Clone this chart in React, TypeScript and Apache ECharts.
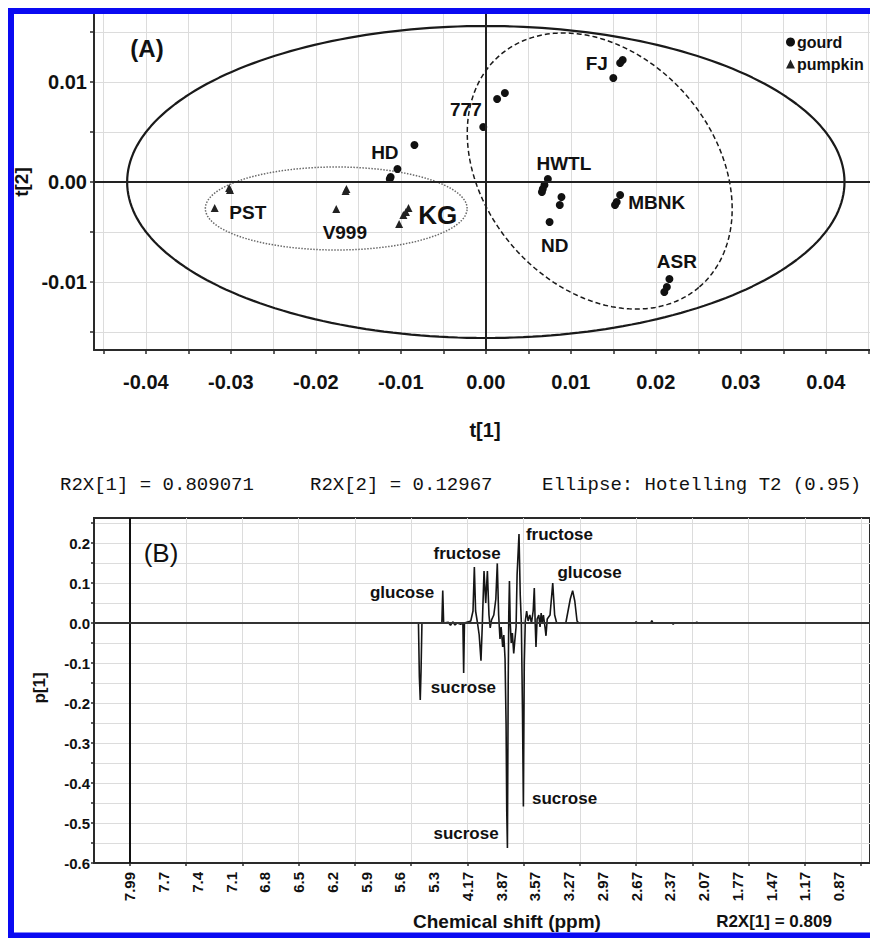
import React, { useEffect, useRef } from 'react';
import * as echarts from 'echarts';

// ---------- (A) PCA scores ----------
const gourdX = [0.0161, 0.0158, 0.0150, 0.00224, 0.00133, -0.0003, -0.0084, -0.0104, -0.0112, -0.0113, 0.0073, 0.0069, 0.0066, 0.0067, 0.0089, 0.0087, 0.0075, 0.0158, 0.0154, 0.0152, 0.0216, 0.0213, 0.0210];
const gourdY = [0.0122, 0.0119, 0.0104, 0.0089, 0.0083, 0.0055, 0.0037, 0.0013, 0.0005, 0.0003, 0.0003, -0.0003, -0.0010, -0.0007, -0.0015, -0.0023, -0.0040, -0.0013, -0.0020, -0.0023, -0.0097, -0.0105, -0.0110];
const pumpkinX = [-0.0302, -0.0301, -0.0319, -0.0164, -0.0165, -0.0176, -0.0091, -0.0094, -0.0097, -0.0102];
const pumpkinY = [-0.0006, -0.0008, -0.0026, -0.0007, -0.0009, -0.0027, -0.0026, -0.0030, -0.0033, -0.0042];

const sampleNames = ['FJ', '777', 'HD', 'HWTL', 'MBNK', 'ND', 'ASR', 'PST', 'V999', 'KG'];
const sampleLabelX = [0.01306, -0.00235, -0.01188, 0.00918, 0.0201, 0.00812, 0.02247, -0.0280, -0.01659, -0.00565];
const sampleLabelY = [0.0119, 0.0073, 0.0030, 0.0019, -0.0020, -0.0063, -0.0079, -0.0030, -0.0050, -0.0033];

// ellipse: centre x, centre y, axis-1 vector (x, y), axis-2 vector (x, y)
const t2Ellipse = [0, 0, 0.0422, 0, 0, 0.0156];
const gourdEllipse = [0.0134, 0.0011, 0.01173, -0.01159, 0.01026, 0.0075];
const pumpkinEllipse = [-0.0176, -0.00265, 0.0154, 0, 0, 0.00415];

const t1Ticks = [-0.045, -0.04, -0.035, -0.03, -0.025, -0.02, -0.015, -0.01, -0.005, 0, 0.005, 0.01, 0.015, 0.02, 0.025, 0.03, 0.035, 0.04, 0.045];
const t1Labels = [-0.04, -0.03, -0.02, -0.01, 0, 0.01, 0.02, 0.03, 0.04];
const t2Ticks = [-0.015, -0.01, -0.005, 0, 0.005, 0.01, 0.015];
const t2Labels = [-0.01, 0, 0.01];

// ---------- (B) loading line p[1] ----------
const specIdx = [0, 256.5, 257.3, 258.1, 258.8, 259.6, 277.3, 278.1, 278.9, 283, 285, 287, 289, 291, 294, 296, 296.7, 297.4, 303, 305, 306.2, 307.3, 309, 310.5, 312.1, 313.2, 314.8, 316.3, 317.8, 319.2, 320.3, 321.5, 323.5, 325.3, 326.6, 327.8, 329, 330, 331.4, 332.4, 333.5, 334.4, 335, 335.6, 336.3, 336.8, 337.4, 338.1, 339, 340, 341.2, 342.3, 343.3, 344.2, 345.9, 347, 348, 349, 349.8, 350.6, 351.5, 352.7, 354, 355.5, 357, 358.5, 359.5, 360.3, 361, 362, 363.5, 364.6, 365.6, 366.6, 367.6, 369, 369.9, 371, 373.5, 375.9, 377.6, 379.4, 387.5, 389.5, 391.5, 393.6, 395.5, 397.5, 399, 449, 450, 451, 463, 464, 465, 482, 483, 484, 503, 504, 505, 658];
const specVal = [0, 0, -0.134, -0.1925, -0.12, 0, 0, 0.081, 0, 0.002, -0.006, 0.003, -0.005, 0, -0.003, 0, -0.125, 0, 0.005, 0.03, 0.14, 0.03, 0.0, -0.03, -0.094, -0.01, 0.13, 0.05, 0.13, 0.02, -0.012, 0.008, 0.02, 0.06, 0.149, 0.02, -0.04, -0.01, -0.06, -0.03, -0.09, -0.25, -0.47, -0.5625, -0.15, 0.02, 0.105, 0.0, -0.05, -0.025, -0.076, -0.04, -0.01, 0.12, 0.2225, 0.07, 0.0, -0.222, -0.459, -0.1, 0.005, 0.03, 0.005, 0.02, 0.0, 0.03, 0.0875, 0.0, -0.06, 0.01, 0.02, -0.01, 0.025, 0.0, 0.02, -0.01, -0.032, 0.01, 0.02, 0.1, 0.02, 0.0, 0.0, 0.03, 0.06, 0.081, 0.055, 0.005, 0, 0, 0.003, 0, 0, 0.006, 0, 0, -0.003, 0, 0, 0.002, 0, 0];

const peakNames = ['fructose', 'fructose', 'glucose', 'glucose', 'sucrose', 'sucrose', 'sucrose'];
const peakLabelIdx = [381.9, 299.7, 241.9, 408.6, 296.5, 298.8, 386.4];
const peakLabelVal = [0.2225, 0.175, 0.0775, 0.1275, -0.16, -0.525, -0.4375];

const varTicks = [0, 50, 100, 150, 200, 250, 300, 350, 400, 450, 500, 550, 600, 650];
const ppmIdx = [0, 30, 60, 90, 120, 150, 180, 210, 240, 270, 300, 330, 360, 390, 420, 450, 480, 510, 540, 570, 600, 630];
const ppmLabels = ['7.99', '7.7', '7.4', '7.1', '6.8', '6.5', '6.2', '5.9', '5.6', '5.3', '4.17', '3.87', '3.57', '3.27', '2.97', '2.67', '2.37', '2.07', '1.77', '1.47', '1.17', '0.87'];
const p1Ticks = [-0.6, -0.55, -0.5, -0.45, -0.4, -0.35, -0.3, -0.25, -0.2, -0.15, -0.1, -0.05, 0, 0.05, 0.1, 0.15, 0.2, 0.25];
const p1Labels = [-0.6, -0.5, -0.4, -0.3, -0.2, -0.1, 0, 0.1, 0.2];

const FONT = '"Liberation Sans", Arial, Helvetica, sans-serif';
const MONO = '"Liberation Mono", "DejaVu Sans Mono", monospace';
const INK = '#111111';

function ellipsePoints(e: number[]) {
  const pts: number[][] = [];
  const n = 240;
  for (let i = 0; i <= n; i++) {
    const t = (i / n) * Math.PI * 2;
    pts.push([e[0] + e[2] * Math.cos(t) + e[4] * Math.sin(t), e[1] + e[3] * Math.cos(t) + e[5] * Math.sin(t)]);
  }
  return pts;
}

function txt(text: string, x: number, y: number, size: number, weight: string, extra: any = {}) {
  const align = extra.align || 'center';
  return {
    type: 'text',
    x,
    y,
    rotation: extra.rotation || 0,
    z: 20,
    style: {
      text,
      font: `${weight} ${size}px ${extra.family || FONT}`,
      fill: extra.fill || INK,
      align,
      verticalAlign: 'middle',
      textAlign: align,
      textVerticalAlign: 'middle',
    },
  };
}

const zeroLine = (axis: 'xAxis' | 'yAxis', color = '#222', width = 2) => ({ [axis]: 0, lineStyle: { color, width, type: 'solid' } });

function buildOption(): any {
  const gridLine = { show: true, lineStyle: { color: '#dcdcdc', width: 1 } };
  const axisLineStyle = { color: '#2a2a2a', width: 2 };
  const labelStyle = { show: true, position: 'inside', formatter: '{b}', fontWeight: 'bold', color: INK, fontFamily: FONT, opacity: 1, textBorderWidth: 0 };
  return {
    animation: false,
    backgroundColor: '#ffffff',
    textStyle: { fontFamily: FONT },
    legend: {
      data: ['gourd', 'pumpkin'],
      orient: 'vertical',
      left: 781,
      top: 29,
      itemWidth: 9,
      itemHeight: 9,
      itemGap: 6,
      selectedMode: false,
      textStyle: { fontFamily: FONT, fontSize: 16, fontWeight: 'bold', color: INK, padding: [0, 0, 0, -3] },
    },
    grid: [
      { left: 94, top: 13, width: 776, height: 337 },
      { left: 94, top: 518, width: 776, height: 345, show: true, borderColor: '#2a2a2a', borderWidth: 2, backgroundColor: 'transparent' },
    ],
    xAxis: [
      {
        gridIndex: 0, type: 'value', min: -0.0461, max: 0.0452,
        axisLine: { onZero: false, lineStyle: axisLineStyle },
        axisTick: { customValues: t1Ticks, length: 4, lineStyle: { color: '#2a2a2a', width: 1.5 } },
        axisLabel: { customValues: t1Labels, formatter: (v: number) => v.toFixed(2), fontSize: 20, fontWeight: 'bold', color: INK, margin: 22, fontFamily: FONT },
        splitLine: gridLine,
      },
      {
        gridIndex: 1, type: 'value', min: -32, max: 658,
        axisLine: { onZero: false, lineStyle: axisLineStyle },
        axisTick: { customValues: varTicks, length: 3, lineStyle: { color: '#2a2a2a', width: 1.5 } },
        axisLabel: {
          customValues: ppmIdx,
          formatter: (v: number) => { const k = ppmIdx.indexOf(Math.round(v)); return k >= 0 ? ppmLabels[k] : ''; },
          rotate: 90, fontSize: 15, fontWeight: 'bold', color: INK, margin: 9, fontFamily: FONT,
        },
        splitLine: gridLine,
      },
    ],
    yAxis: [
      {
        gridIndex: 0, type: 'value', min: -0.0168, max: 0.0169,
        axisLine: { onZero: false, lineStyle: axisLineStyle },
        axisTick: { customValues: t2Ticks, length: 4, lineStyle: { color: '#2a2a2a', width: 1.5 } },
        axisLabel: { customValues: t2Labels, formatter: (v: number) => v.toFixed(2), fontSize: 20, fontWeight: 'bold', color: INK, margin: 7, fontFamily: FONT },
        splitLine: gridLine,
      },
      {
        gridIndex: 1, type: 'value', min: -0.6, max: 0.2625,
        axisLine: { onZero: false, lineStyle: axisLineStyle },
        axisTick: { customValues: p1Ticks, length: 3, lineStyle: { color: '#2a2a2a', width: 1.5 } },
        axisLabel: { customValues: p1Labels, formatter: (v: number) => v.toFixed(1), fontSize: 15, fontWeight: 'bold', color: INK, margin: 4, fontFamily: FONT },
        splitLine: gridLine,
      },
    ],
    series: [
      {
        name: 'T2', type: 'line', xAxisIndex: 0, yAxisIndex: 0, data: ellipsePoints(t2Ellipse),
        showSymbol: false, symbol: 'none', silent: true, z: 2,
        lineStyle: { color: '#1a1a1a', width: 2.2 },
        markLine: { silent: true, symbol: 'none', label: { show: false }, data: [zeroLine('xAxis'), zeroLine('yAxis')] },
      },
      {
        name: 'gourdEllipse', type: 'line', xAxisIndex: 0, yAxisIndex: 0, data: ellipsePoints(gourdEllipse),
        showSymbol: false, symbol: 'none', silent: true, z: 2,
        lineStyle: { color: '#1a1a1a', width: 1.5, type: [5, 3] },
      },
      {
        name: 'pumpkinEllipse', type: 'line', xAxisIndex: 0, yAxisIndex: 0, data: ellipsePoints(pumpkinEllipse),
        showSymbol: false, symbol: 'none', silent: true, z: 2,
        lineStyle: { color: '#6a6a6a', width: 1.5, type: [1.5, 1.5] },
      },
      {
        name: 'gourd', type: 'scatter', xAxisIndex: 0, yAxisIndex: 0, symbol: 'circle', symbolSize: 8, z: 4,
        itemStyle: { color: INK, opacity: 1 },
        data: gourdX.map((x, i) => [x, gourdY[i]]),
      },
      {
        name: 'pumpkin', type: 'scatter', xAxisIndex: 0, yAxisIndex: 0, symbol: 'triangle', symbolSize: 8, z: 4,
        itemStyle: { color: '#222', opacity: 1 },
        data: pumpkinX.map((x, i) => [x, pumpkinY[i]]),
      },
      {
        name: 'sampleLabels', type: 'scatter', xAxisIndex: 0, yAxisIndex: 0, symbolSize: 1, silent: true, z: 5,
        itemStyle: { color: 'rgba(0,0,0,0)', opacity: 1 },
        label: { ...labelStyle, fontSize: 19 },
        data: sampleNames.map((n, i) => ({ name: n, value: [sampleLabelX[i], sampleLabelY[i]], label: n === 'KG' ? { fontSize: 26 } : undefined })),
      },
      {
        name: 'p1', type: 'line', xAxisIndex: 1, yAxisIndex: 1, data: specIdx.map((x, i) => [x, specVal[i]]),
        showSymbol: false, symbol: 'none', silent: true, z: 3,
        lineStyle: { color: '#151515', width: 1.6 },
        markLine: { silent: true, symbol: 'none', label: { show: false }, data: [zeroLine('xAxis', '#111', 2), zeroLine('yAxis', '#333', 2)] },
      },
      {
        name: 'peakLabels', type: 'scatter', xAxisIndex: 1, yAxisIndex: 1, symbolSize: 1, silent: true, z: 5,
        itemStyle: { color: 'rgba(0,0,0,0)', opacity: 1 },
        label: { ...labelStyle, fontSize: 17 },
        data: peakNames.map((n, i) => ({ name: n, value: [peakLabelIdx[i], peakLabelVal[i]] })),
      },
    ],
    graphic: [
      txt('(A)', 147, 48, 24, 'bold'),
      txt('t[1]', 485, 430, 20, 'bold'),
      txt('t[2]', 21, 182, 19, 'bold', { rotation: Math.PI / 2 }),
      txt('R2X[1] = 0.809071', 60, 485, 19, 'normal', { align: 'left', family: MONO, fill: '#111' }),
      txt('R2X[2] = 0.12967', 310, 485, 19, 'normal', { align: 'left', family: MONO, fill: '#111' }),
      txt('Ellipse: Hotelling T2 (0.95)', 542, 485, 19, 'normal', { align: 'left', family: MONO, fill: '#111' }),
      txt('(B)', 161, 553, 26, 'normal'),
      txt('p[1]', 39, 688, 17, 'bold', { rotation: Math.PI / 2 }),
      txt('Chemical shift (ppm)', 507, 921, 19, 'bold'),
      txt('R2X[1] = 0.809', 774, 921, 17, 'bold'),
      {
        type: 'rect', z: 30, silent: true,
        shape: { x: 11, y: 11, width: 900, height: 924.5 },
        style: { fill: 'none', stroke: '#0a0af2', lineWidth: 6 },
      },
    ],
  };
}

export default function App() {
  const ref = useRef<HTMLDivElement>(null);
  useEffect(() => {
    if (!ref.current) return;
    const chart = echarts.init(ref.current, null, { renderer: 'svg' });
    chart.setOption(buildOption());
    return () => chart.dispose();
  }, []);
  return <div ref={ref} style={{ position: 'absolute', left: 0, top: 0, width: 870, height: 938, background: '#fff' }} />;
}
